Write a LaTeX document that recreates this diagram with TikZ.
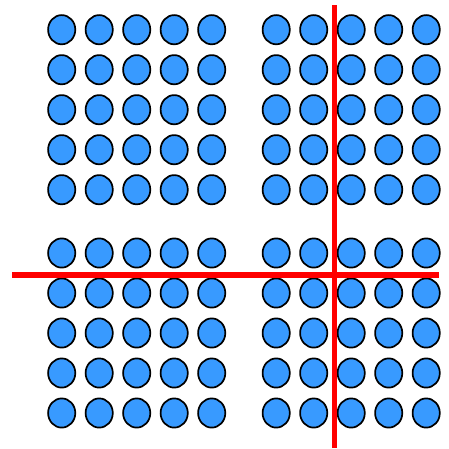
\documentclass[tikz,border=0pt]{standalone}
\usepackage{tikz}
\definecolor{dotblue}{RGB}{56,154,255}
\definecolor{cutred}{RGB}{255,0,0}
\begin{document}
\begin{tikzpicture}[x=1pt,y=-1pt,
  dot/.style={draw=black,line width=1.7pt,fill=dotblue},
  cut/.style={draw=cutred,line width=5.5pt}]
\useasboundingbox (0,0) rectangle (449,448);
\foreach \bx in {61.7,276.2}{
  \foreach \by in {29.7,253}{
    \foreach \i in {0,...,4}{
      \foreach \j in {0,...,4}{
        \draw[dot] ({\bx+37.5*\i},{\by+40*\j}) ellipse [x radius=13.6, y radius=14.6];
      }
    }
  }
}
\coordinate (hL) at (12,275);
\coordinate (hR) at (438.5,275);
\coordinate (vT) at (334.3,5);
\coordinate (vB) at (334.3,448);
\draw[cut] (hL) -- (hR);
\draw[cut] (vT) -- (vB);
\end{tikzpicture}
\end{document}
